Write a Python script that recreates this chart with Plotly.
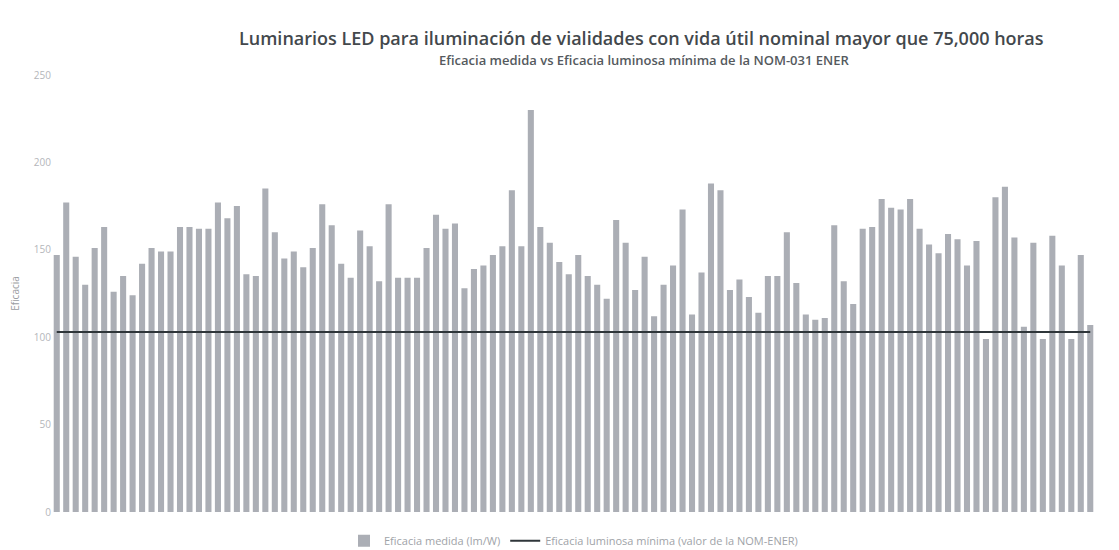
import plotly.graph_objects as go

luminarios = [f"L{i}" for i in range(1, 111)]

eficacia_medida = [
    147, 177, 146, 130, 151, 163, 126, 135, 124, 142,
    151, 149, 149, 163, 163, 162, 162, 177, 168, 175,
    136, 135, 185, 160, 145, 149, 140, 151, 176, 164,
    142, 134, 161, 152, 132, 176, 134, 134, 134, 151,
    170, 162, 165, 128, 139, 141, 147, 152, 184, 152,
    230, 163, 154, 143, 136, 147, 135, 130, 122, 167,
    154, 127, 146, 112, 130, 141, 173, 113, 137, 188,
    184, 127, 133, 123, 114, 135, 135, 160, 131, 113,
    110, 111, 164, 132, 119, 162, 163, 179, 174, 173,
    179, 162, 153, 148, 159, 156, 141, 155, 99, 180,
    186, 157, 106, 154, 99, 158, 141, 99, 147, 107,
]

eficacia_minima = [103] * len(luminarios)

title_text = "Luminarios LED para iluminación de vialidades con vida útil nominal mayor que 75,000 horas"
subtitle_text = "Eficacia medida vs Eficacia luminosa mínima de la NOM-031 ENER"
y_ticks = [0, 50, 100, 150, 200, 250]

fig = go.Figure()
fig.add_trace(go.Bar(
    x=luminarios, y=eficacia_medida,
    name="Eficacia medida (lm/W)",
    marker=dict(color="#abaeb5", line=dict(width=0)),
))
fig.add_trace(go.Scatter(
    x=luminarios, y=eficacia_minima,
    name="Eficacia luminosa mínima (valor de la NOM-ENER)",
    mode="lines",
    line=dict(color="#2f363a", width=2),
))

fig.update_layout(
    width=1111, height=542,
    margin=dict(l=44, r=24, t=67, b=38, autoexpand=False),
    paper_bgcolor="white", plot_bgcolor="white",
    bargap=0.36,
    font=dict(family="Open Sans, Noto Sans, sans-serif"),
    title=dict(
        text=title_text,
        x=0.570, xanchor="center", y=0.944, yanchor="middle",
        font=dict(size=18, color="#43484c", family="Open Sans, Noto Sans, sans-serif", weight=600),
    ),
    annotations=[dict(
        text=subtitle_text, xref="paper", yref="paper",
        x=0.568, y=1.034, xanchor="center", yanchor="middle",
        showarrow=False,
        font=dict(size=13, color="#555a5e", family="Open Sans, Noto Sans, sans-serif", weight=600),
    )],
    showlegend=True,
    legend=dict(
        orientation="h", x=0.5, xanchor="center", y=-0.066, yanchor="middle",
        font=dict(size=11, color="#a0a3a8"),
    ),
    xaxis=dict(showticklabels=False, showgrid=False, zeroline=False, showline=False, ticks="",
               automargin=False),
    yaxis=dict(
        range=[0, 250], tickvals=y_ticks, showgrid=False, zeroline=False,
        tickfont=dict(size=10, color="#b4b6ba"), automargin=False,
        title=dict(text="Eficacia", font=dict(size=10, color="#9a9da2"), standoff=14),
    ),
)

fig.write_html("out.html")
